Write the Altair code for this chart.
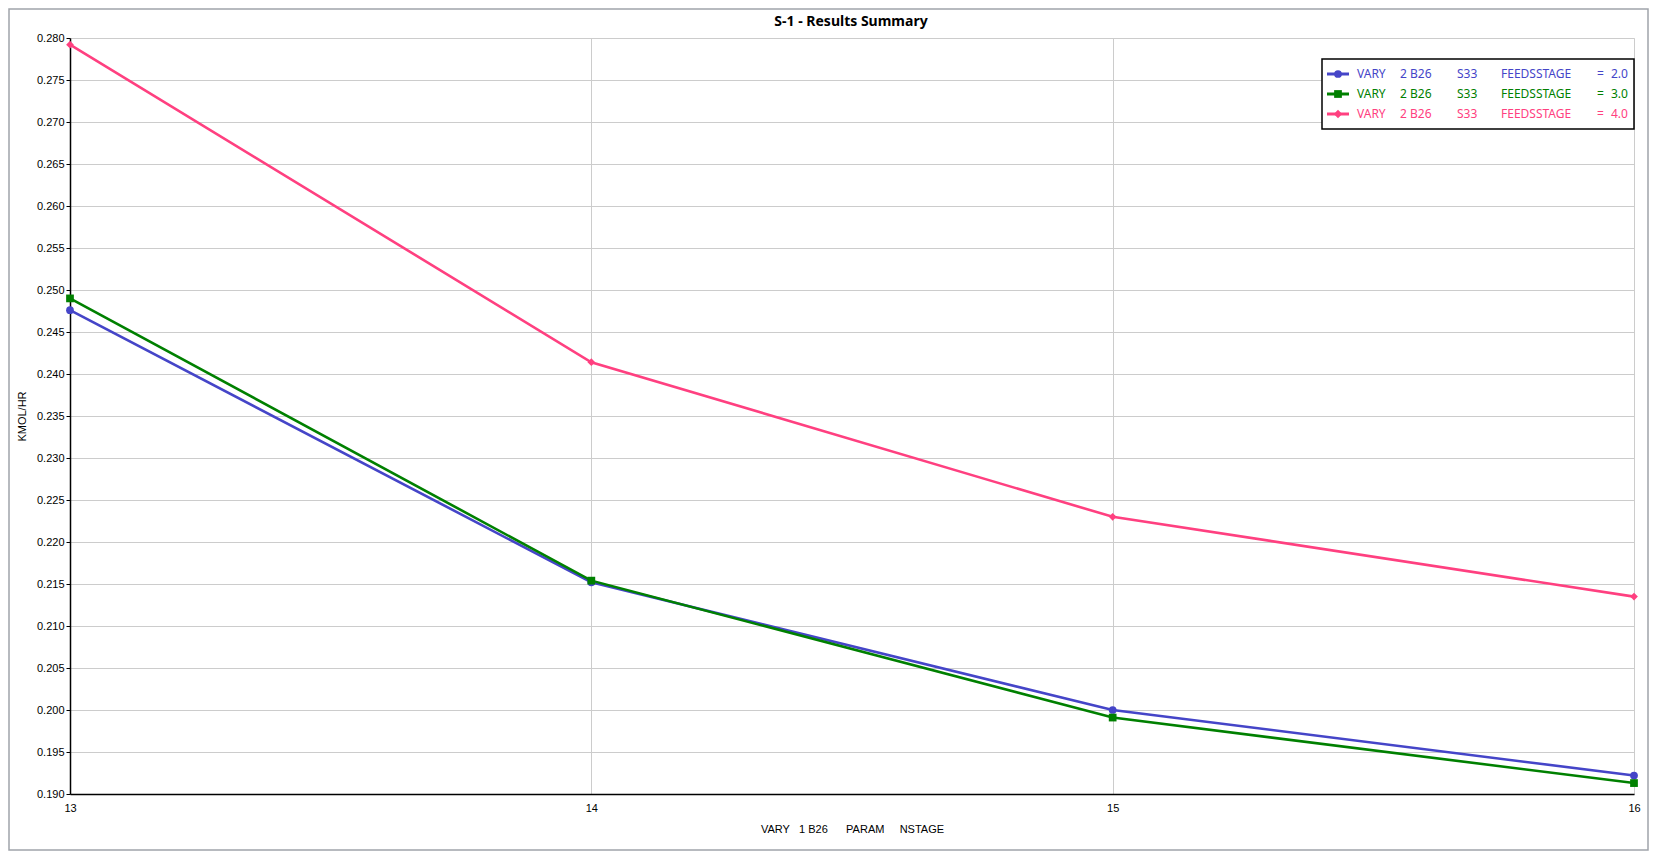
import altair as alt
import pandas as pd

# ---- data ----
nstage = [13, 14, 15, 16]
series_names = ["FEEDSSTAGE = 2.0", "FEEDSSTAGE = 3.0", "FEEDSSTAGE = 4.0"]
feed_values = ["2.0", "3.0", "4.0"]
s_feed2 = [0.2476, 0.2152, 0.2000, 0.1922]
s_feed3 = [0.2490, 0.2154, 0.1991, 0.1913]
s_feed4 = [0.2792, 0.2414, 0.2230, 0.2135]
y_ticks = [round(0.190 + 0.005 * i, 3) for i in range(19)]
x_ticks = [13, 14, 15, 16]
title_text = "S-1 - Results Summary"

colors = ["#4545c8", "#008000", "#ff4080"]
shapes = ["circle", "square", "diamond"]
FONT = "Noto Sans"

rows = []
for name, vals in zip(series_names, [s_feed2, s_feed3, s_feed4]):
    for x, v in zip(nstage, vals):
        rows.append({"nstage": x, "value": v, "series": name})
df = pd.DataFrame(rows)

W, H = 1564, 756

xenc = alt.X(
    "nstage:Q",
    scale=alt.Scale(domain=[13, 16], nice=False, zero=False),
    axis=alt.Axis(
        values=x_ticks, format="d", ticks=False, labelPadding=8, labelFlush=False,
        title="VARY\u00a0\u00a0\u00a01 B26\u00a0\u00a0\u00a0\u00a0\u00a0\u00a0PARAM\u00a0\u00a0\u00a0\u00a0\u00a0NSTAGE",
        titlePadding=10, titleFontSize=11, titleFontWeight="normal",
        labelFontSize=11, domainColor="black", domainWidth=1.5,
        gridColor="#cccccc", labelColor="black", titleColor="black",
    ),
)
yenc = alt.Y(
    "value:Q",
    scale=alt.Scale(domain=[0.19, 0.28], nice=False, zero=False),
    axis=alt.Axis(
        values=y_ticks, format=".3f", tickSize=4, labelPadding=2, labelFlush=False,
        title="KMOL/HR", titlePadding=9, titleFontSize=11, titleFontWeight="normal",
        labelFontSize=11, domainColor="black", domainWidth=1.5, tickColor="black",
        gridColor="#cccccc", labelColor="black", titleColor="black",
    ),
)
cenc = alt.Color("series:N", scale=alt.Scale(domain=series_names, range=colors), legend=None)

lines = alt.Chart(df).mark_line(strokeWidth=2.6).encode(x=xenc, y=yenc, color=cenc)
points = alt.Chart(df).mark_point(filled=True, size=60, opacity=1).encode(
    x="nstage:Q", y="value:Q", color=cenc,
    shape=alt.Shape("series:N", scale=alt.Scale(domain=series_names, range=shapes), legend=None),
)

one = alt.Data(values=[{"k": 0}])

# outer frame
frame = alt.Chart(one).mark_rect(fill=None, stroke="#a0a4ab", strokeWidth=1.5).encode(
    x=alt.value(-61), x2=alt.value(W + 14), y=alt.value(-29), y2=alt.value(H + 56)
)

title = alt.Chart(one).mark_text(
    fontSize=14, fontWeight="bold", font=FONT, color="black", align="center", baseline="middle"
).encode(x=alt.value(W / 2 - 1), y=alt.value(-16), text=alt.value(title_text))

# custom legend
leg_box = alt.Chart(one).mark_rect(fill="white", stroke="black", strokeWidth=1.5).encode(
    x=alt.value(1252), x2=alt.value(1564), y=alt.value(21), y2=alt.value(91)
)
legend_layers = [leg_box]
row_y = [36, 56, 76]
col_x = [1287, 1330, 1387, 1431, 1527, 1541]
for i in range(3):
    c = colors[i]
    yy = row_y[i]
    legend_layers.append(
        alt.Chart(one).mark_rule(strokeWidth=3, color=c).encode(
            x=alt.value(1257), x2=alt.value(1279), y=alt.value(yy)
        )
    )
    legend_layers.append(
        alt.Chart(one).mark_point(filled=True, size=70 if shapes[i] == "diamond" else 60,
                                  opacity=1, color=c, shape=shapes[i]).encode(
            x=alt.value(1268), y=alt.value(yy)
        )
    )
    texts = ["VARY", "2 B26", "S33", "FEEDSSTAGE", "=", feed_values[i]]
    for tx, xx in zip(texts, col_x):
        legend_layers.append(
            alt.Chart(one).mark_text(
                align="left", baseline="middle", fontSize=12, font=FONT, color=c
            ).encode(x=alt.value(xx), y=alt.value(yy), text=alt.value(tx))
        )

chart = alt.layer(frame, title, lines, points, *legend_layers).properties(
    width=W, height=H,
    autosize=alt.AutoSizeParams(type="none"),
    padding={"left": 62, "top": 30, "right": 15, "bottom": 57},
).configure_view(stroke=None).configure_axis(
    labelFont=FONT, titleFont=FONT
).configure(background="white")

chart.save("out.html", embed_options={"renderer": "svg", "actions": False})
